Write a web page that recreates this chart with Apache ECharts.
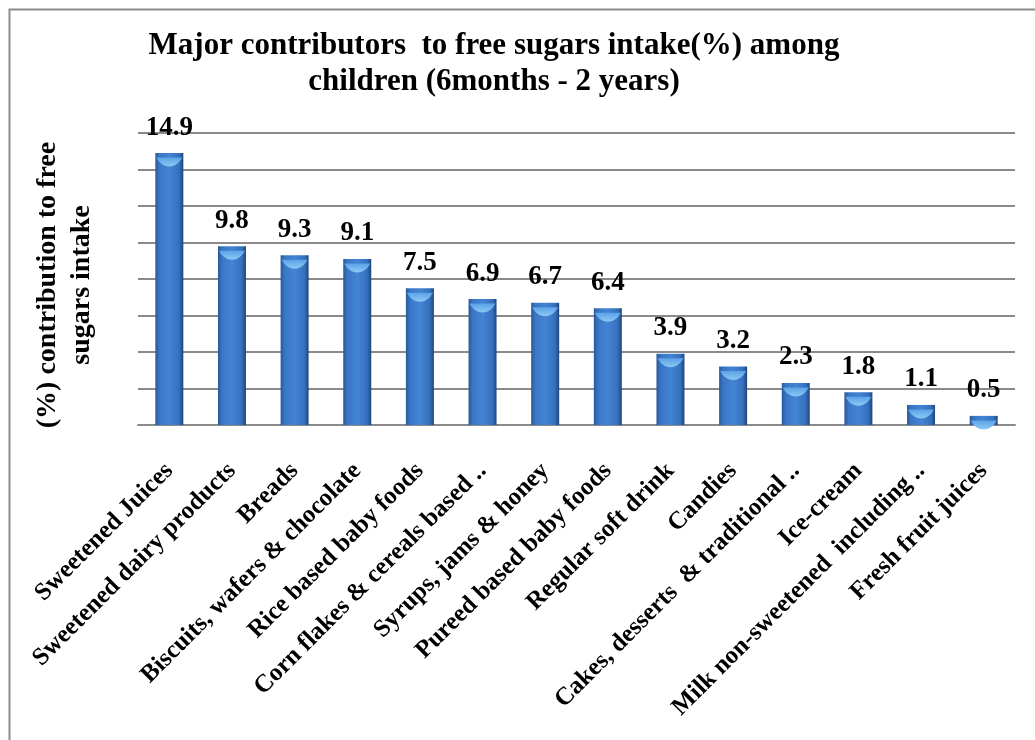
<!DOCTYPE html>
<html>
<head>
<meta charset="utf-8">
<script src="https://cdn.jsdelivr.net/npm/echarts@6/dist/echarts.min.js"></script>
<style>
  html, body { margin: 0; padding: 0; background: #fff; }
  #chart { width: 1035px; height: 740px; }
</style>
</head>
<body>
<div id="chart"></div>
<script>
// Food groups and their share (%) of free sugars intake
const categories = [
  'Sweetened Juices',
  'Sweetened dairy products',
  'Breads',
  'Biscuits, wafers & chocolate',
  'Rice based baby foods',
  'Corn flakes & cereals based ..',
  'Syrups, jams & honey',
  'Pureed based baby foods',
  'Regular soft drink',
  'Candies',
  'Cakes, desserts  & traditional ..',
  'Ice-cream',
  'Milk non-sweetened  including ..',
  'Fresh fruit juices'
];
const contribution = [14.9, 9.8, 9.3, 9.1, 7.5, 6.9, 6.7, 6.4, 3.9, 3.2, 2.3, 1.8, 1.1, 0.5];

const titleLines = ['Major contributors  to free sugars intake(%) among', 'children (6months - 2 years)'];
const yAxisTitle = ['(%) contribution to free', 'sugars intake'];

const serif = '"Liberation Serif", "Times New Roman", serif';
const gridColor = '#8a8a8a';

const barFill = new echarts.graphic.LinearGradient(0, 0, 1, 0, [
  { offset: 0, color: '#2a5897' },
  { offset: 0.15, color: '#3a76c6' },
  { offset: 0.5, color: '#4384d4' },
  { offset: 0.85, color: '#3670bd' },
  { offset: 1, color: '#1e457c' }
]);
const capFill = new echarts.graphic.LinearGradient(0, 0, 0, 1, [
  { offset: 0, color: '#5aa2e6' },
  { offset: 1, color: '#8cc8f4' }
]);

const chart = echarts.init(document.getElementById('chart'), null, { renderer: 'canvas' });
chart.setOption({
  animation: false,
  backgroundColor: '#ffffff',
  title: {
    text: titleLines.join('\n'),
    left: 489,
    top: 23,
    textAlign: 'center',
    textStyle: {
      fontFamily: serif,
      fontWeight: 'bold',
      fontSize: 31,
      lineHeight: 36,
      color: '#000'
    }
  },
  graphic: [
    {
      type: 'rect',
      left: 7, top: 7,
      shape: { width: 1100, height: 800 },
      style: { fill: 'none', stroke: '#8c8c8c', lineWidth: 2 },
      silent: true
    },
    {
      type: 'text',
      x: 65, y: 285,
      rotation: Math.PI / 2,
      style: {
        text: yAxisTitle.join('\n'),
        font: 'bold 28px ' + serif,
        fill: '#000',
        align: 'center',
        verticalAlign: 'middle',
        lineHeight: 34
      }
    }
  ],
  grid: { left: 138, right: 20, top: 133, bottom: 315 },
  xAxis: {
    type: 'category',
    data: categories,
    axisLine: { lineStyle: { color: gridColor, width: 2 } },
    axisTick: { show: false },
    axisLabel: {
      interval: 0,
      rotate: 45,
      margin: 42,
      fontFamily: serif,
      fontWeight: 'bold',
      fontSize: 25,
      color: '#000'
    }
  },
  yAxis: {
    type: 'value',
    min: 0,
    max: 16,
    interval: 2,
    axisLine: { show: false },
    axisTick: { show: false },
    axisLabel: { show: false },
    splitLine: { lineStyle: { color: gridColor, width: 2 } }
  },
  series: [
    {
      type: 'bar',
      data: contribution,
      barWidth: 28,
      itemStyle: { color: barFill },
      label: {
        show: true,
        position: 'top',
        distance: 12,
        fontFamily: serif,
        fontWeight: 'bold',
        fontSize: 27,
        color: '#000'
      },
      z: 2
    },
    {
      type: 'pictorialBar',
      data: contribution,
      symbol: 'path://M0,0 L100,0 C75,45 25,45 0,0 Z',
      symbolSize: [26, 9],
      symbolPosition: 'end',
      symbolOffset: [0, '50%'],
      itemStyle: { color: capFill },
      silent: true,
      z: 3
    }
  ]
});
</script>
</body>
</html>
